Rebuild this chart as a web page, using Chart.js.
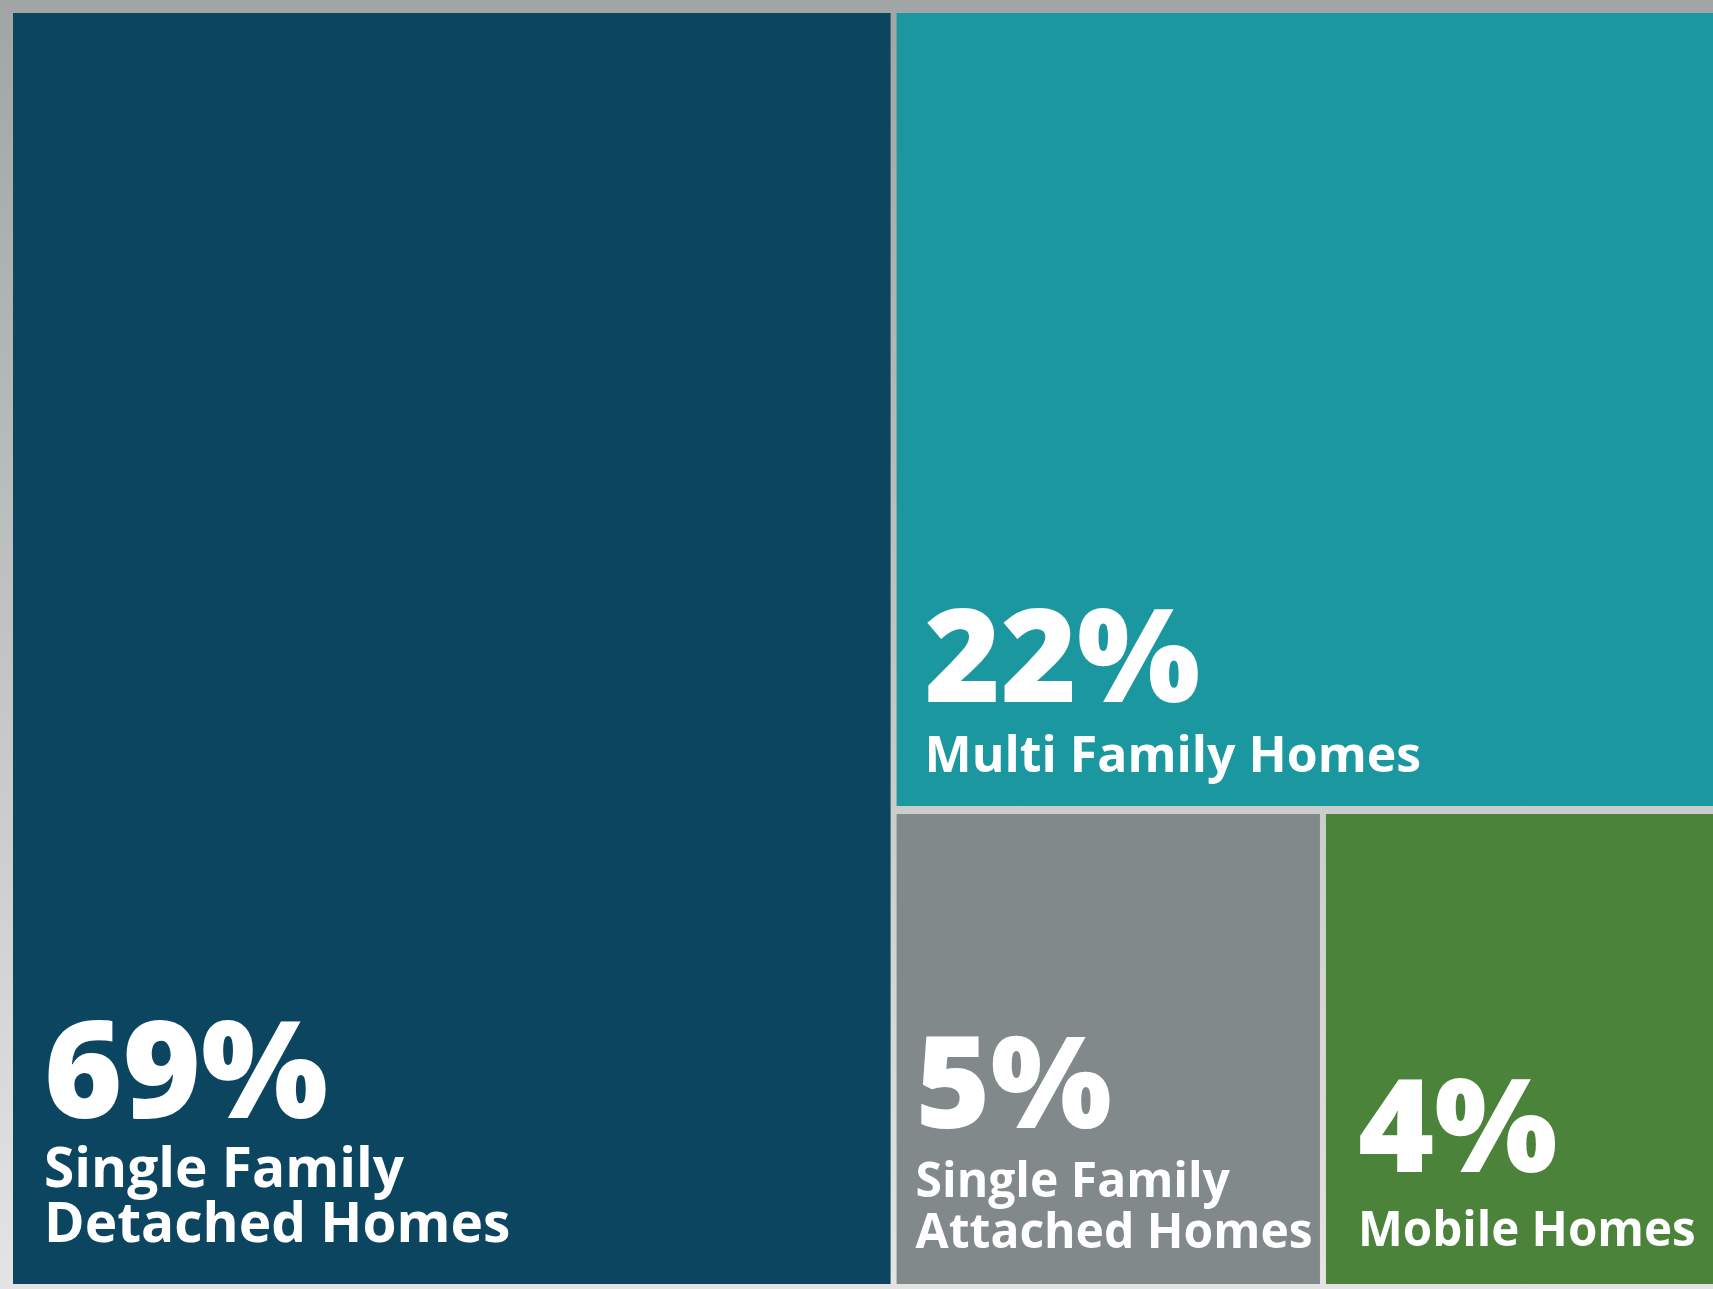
<!DOCTYPE html>
<html>
<head>
<meta charset="utf-8">
<title>Housing stock by type</title>
<script src="https://cdn.jsdelivr.net/npm/chart.js@4.4.1/dist/chart.umd.min.js"></script>
<style>
  html, body { margin: 0; padding: 0; }
  body {
    width: 1713px;
    height: 1289px;
    overflow: hidden;
    background: linear-gradient(to bottom, #a1a5a5, #e4e4e4);
  }
  #wrap { position: relative; width: 1713px; height: 1289px; }
</style>
</head>
<body>
<div id="wrap"><canvas id="chart"></canvas></div>
<script>
'use strict';

// categories, one entry per tile (each entry is the lines of its caption)
const categories = [
  ['Single Family', 'Detached Homes'],
  ['Multi Family Homes'],
  ['Single Family', 'Attached Homes'],
  ['Mobile Homes'],
];
const shares = [69, 22, 5, 4];
const shareLabels = ['69%', '22%', '5%', '4%'];

const tileColors = ['#0c4560', '#1b979f', '#82898a', '#4b833b'];

// the source lays its tiles out by hand, not by area, so the cuts are kept
// here as a slicing tree: "at" is the cut position in % of the parent box
const layoutTree = {
  dir: 'x', at: 51.8,
  a: 0,
  b: {
    dir: 'y', at: 62.7,
    a: 1,
    b: { dir: 'x', at: 52.4, a: 2, b: 3 },
  },
};

// caption placement inside each tile, measured from the tile's bottom-left
const captionStyles = [
  { padX: 31, valueSize: 134, valueBase: 166, nameSize: 55, nameBase: 42, lineGap: 55 },
  { padX: 28, valueSize: 130, valueBase: 104, nameSize: 50, nameBase: 34, lineGap: 52 },
  { padX: 19, valueSize: 128, valueBase: 156, nameSize: 48, nameBase: 36, lineGap: 51 },
  { padX: 32, valueSize: 130, valueBase: 112, nameSize: 47.5, nameBase: 38, lineGap: 50 },
];

function placeTiles(node, box, out) {
  if (typeof node === 'number') {
    out[node] = box;
    return;
  }
  if (node.dir === 'x') {
    const cut = box.x0 + (box.x1 - box.x0) * node.at / 100;
    placeTiles(node.a, { x0: box.x0, x1: cut, y0: box.y0, y1: box.y1 }, out);
    placeTiles(node.b, { x0: cut, x1: box.x1, y0: box.y0, y1: box.y1 }, out);
  } else {
    const cut = box.y0 + (box.y1 - box.y0) * node.at / 100;
    placeTiles(node.a, { x0: box.x0, x1: box.x1, y0: box.y0, y1: cut }, out);
    placeTiles(node.b, { x0: box.x0, x1: box.x1, y0: cut, y1: box.y1 }, out);
  }
}

class TreemapController extends Chart.DatasetController {
  update(mode) {
    const meta = this._cachedMeta;
    this.updateElements(meta.data, 0, meta.data.length, mode);
  }

  updateElements(rects, start, count, mode) {
    const meta = this._cachedMeta;
    const xScale = meta.xScale;
    const yScale = meta.yScale;
    const dataset = this.getDataset();
    const gap = dataset.gap;
    const boxes = [];
    placeTiles(dataset.tree, { x0: xScale.min, x1: xScale.max, y0: yScale.min, y1: yScale.max }, boxes);

    for (let i = start; i < start + count; i++) {
      const b = boxes[i];
      let left = xScale.getPixelForValue(b.x0);
      let right = xScale.getPixelForValue(b.x1);
      let top = yScale.getPixelForValue(b.y0);
      let bottom = yScale.getPixelForValue(b.y1);
      if (b.x0 > xScale.min) left += gap.x / 2;
      if (b.x1 < xScale.max) right -= gap.x / 2;
      if (b.y0 > yScale.min) top += gap.y / 2;
      if (b.y1 < yScale.max) bottom -= gap.y / 2;

      this.updateElement(rects[i], i, {
        x: (left + right) / 2,
        y: top,
        base: bottom,
        width: right - left,
        height: bottom - top,
        horizontal: false,
        borderSkipped: {},
        inflateAmount: 0,
        enableBorderRadius: false,
        options: this.resolveDataElementOptions(i, mode),
      }, mode);
    }
  }
}
TreemapController.id = 'treemap';
TreemapController.defaults = { datasetElementType: false, dataElementType: 'bar' };
Chart.register(TreemapController);

const tileCaptions = {
  id: 'tileCaptions',
  afterDatasetsDraw(chart) {
    const ctx = chart.ctx;
    const meta = chart.getDatasetMeta(0);
    meta.data.forEach((rect, i) => {
      const st = captionStyles[i];
      const { x, width, base } = rect.getProps(['x', 'width', 'base'], true);
      const left = x - width / 2 + st.padX;
      const lines = categories[i];

      ctx.save();
      ctx.fillStyle = '#ffffff';
      ctx.textAlign = 'left';
      ctx.textBaseline = 'alphabetic';
      ctx.font = `800 ${st.valueSize}px "Open Sans"`;
      ctx.fillText(shareLabels[i], left, base - st.valueBase);
      ctx.font = `700 ${st.nameSize}px "Open Sans"`;
      lines.forEach((line, k) => {
        ctx.fillText(line, left, base - st.nameBase - (lines.length - 1 - k) * st.lineGap);
      });
      ctx.restore();
    });
  },
};

function onContentLoad() {
  const canvas = document.getElementById('chart');
  new Chart(canvas.getContext('2d'), {
    type: 'treemap',
    data: {
      labels: categories.map(lines => lines.join(' ')),
      datasets: [{
        data: shares,
        backgroundColor: tileColors,
        borderWidth: 0,
        tree: layoutTree,
        gap: { x: 6, y: 8 },
      }],
    },
    options: {
      responsive: true,
      maintainAspectRatio: false,
      animation: false,
      events: [],
      layout: { padding: { left: 13, top: 13, right: 0, bottom: 5 } },
      scales: {
        x: { type: 'linear', min: 0, max: 100, display: false },
        y: { type: 'linear', min: 0, max: 100, reverse: true, display: false },
      },
      plugins: {
        legend: { display: false },
        tooltip: { enabled: false },
      },
    },
    plugins: [tileCaptions],
  });
}

document.addEventListener('DOMContentLoaded', onContentLoad);
</script>
</body>
</html>
